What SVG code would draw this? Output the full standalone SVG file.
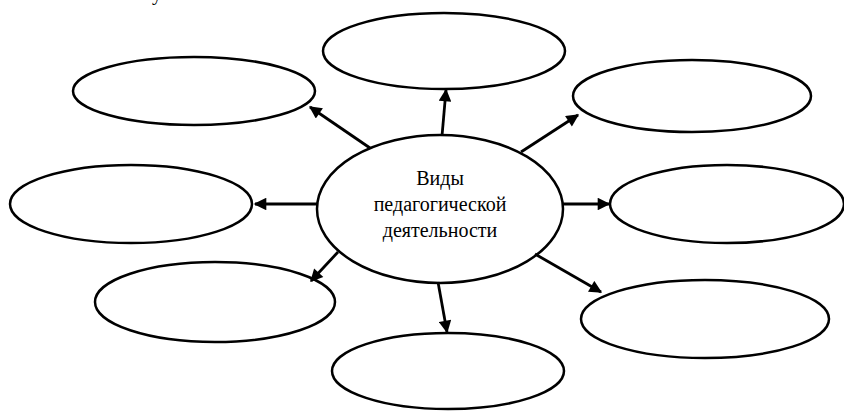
<svg xmlns="http://www.w3.org/2000/svg" width="844" height="414" viewBox="0 0 844 414">
<defs>
<style>
.node ellipse{fill:#fff;stroke:#000;stroke-width:2.5}
.conn line{stroke:#000;stroke-width:2.8;fill:none}
.t{font-family:"Liberation Serif","Times New Roman",serif;font-size:20px;fill:#000;text-anchor:middle}
</style>
<marker id="ah" viewBox="0 0 10 10" refX="9" refY="5" markerWidth="5" markerHeight="4.5" markerUnits="strokeWidth" orient="auto">
<path d="M0,0 L10,5 L0,10 z" fill="#000"/>
</marker>
</defs>
<rect width="844" height="414" fill="#fff"/>
<text class="t" x="157" y="0">у</text>
<g id="n-center" class="node"><ellipse cx="440" cy="209" rx="123" ry="74"/>
<text class="t" x="440" y="185">Виды</text>
<text class="t" x="440" y="211">педагогической</text>
<text class="t" x="440" y="237">деятельности</text></g>
<g id="n-top" class="node"><ellipse cx="444" cy="51" rx="121" ry="38"/></g>
<g id="n-topleft" class="node"><ellipse cx="194" cy="91" rx="121" ry="34"/></g>
<g id="n-topright" class="node"><ellipse cx="692" cy="96" rx="119" ry="36"/></g>
<g id="n-left" class="node"><ellipse cx="131" cy="204" rx="121" ry="39"/></g>
<g id="n-right" class="node"><ellipse cx="727" cy="204" rx="117" ry="39"/></g>
<g id="n-bottomleft" class="node"><ellipse cx="215" cy="302" rx="120" ry="40"/></g>
<g id="n-bottom" class="node"><ellipse cx="448" cy="371" rx="116" ry="38"/></g>
<g id="n-bottomright" class="node"><ellipse cx="705" cy="319" rx="124" ry="39"/></g>
<g id="connectors" class="conn">
<line x1="442" y1="136" x2="446" y2="90" marker-end="url(#ah)"/>
<line x1="370" y1="148" x2="310" y2="107" marker-end="url(#ah)"/>
<line x1="521" y1="152" x2="578" y2="115" marker-end="url(#ah)"/>
<line x1="318" y1="204" x2="255" y2="204" marker-end="url(#ah)"/>
<line x1="562" y1="204" x2="609" y2="204" marker-end="url(#ah)"/>
<line x1="338" y1="252" x2="311" y2="281" marker-end="url(#ah)"/>
<line x1="438" y1="282" x2="447" y2="332" marker-end="url(#ah)"/>
<line x1="535" y1="254" x2="601" y2="292" marker-end="url(#ah)"/>
</g>
</svg>
